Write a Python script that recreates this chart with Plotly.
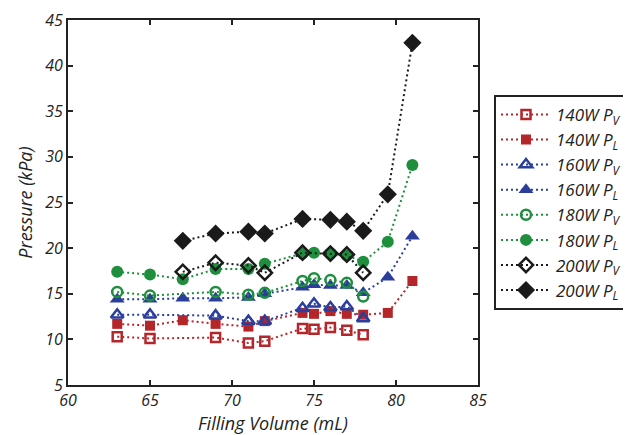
import plotly.graph_objects as go

x_pv = [63, 65, 69, 71, 72, 74.3, 75, 76, 77, 78]
x_pl = [63, 65, 67, 69, 71, 72, 74.3, 75, 76, 77, 78, 79.5, 81]
x_200pv = [67, 69, 71, 72, 74.3, 76, 77, 78]
x_200pl = [67, 69, 71, 72, 74.3, 76, 77, 78, 79.5, 81]

p140_v = [10.3, 10.1, 10.2, 9.6, 9.8, 11.2, 11.1, 11.3, 11.0, 10.5]
p140_l = [11.7, 11.5, 12.1, 11.7, 11.4, 12.0, 12.9, 12.8, 13.1, 12.8, 12.7, 12.9, 16.4]
p160_v = [12.7, 12.7, 12.6, 12.0, 12.0, 13.4, 13.9, 13.5, 13.6, 12.3]
p160_l = [14.4, 14.4, 14.5, 14.5, 14.6, 15.0, 15.7, 16.0, 15.9, 15.9, 15.1, 16.8, 21.3]
p180_v = [15.2, 14.8, 15.2, 14.9, 15.1, 16.4, 16.7, 16.5, 16.2, 14.7]
p180_l = [17.4, 17.1, 16.6, 17.7, 17.7, 18.3, 19.4, 19.5, 19.4, 19.2, 18.5, 20.7, 29.1]
p200_v = [17.4, 18.4, 18.1, 17.3, 19.5, 19.4, 19.3, 17.3]
p200_l = [20.8, 21.6, 21.8, 21.6, 23.2, 23.1, 22.9, 21.9, 25.9, 42.5]

x_ticks = [60, 65, 70, 75, 80, 85]
y_ticks = [5, 10, 15, 20, 25, 30, 35, 40, 45]

RED = "#B5262B"
BLUE = "#2C3E9C"
GREEN = "#1F8F3E"
BLACK = "#1A1A1A"

series = [
    ("140W P<sub>V</sub>", x_pv, p140_v, RED, "square-open", 9),
    ("140W P<sub>L</sub>", x_pl, p140_l, RED, "square", 10),
    ("160W P<sub>V</sub>", x_pv, p160_v, BLUE, "triangle-up-open", 11),
    ("160W P<sub>L</sub>", x_pl, p160_l, BLUE, "triangle-up", 13),
    ("180W P<sub>V</sub>", x_pv, p180_v, GREEN, "circle-open", 10),
    ("180W P<sub>L</sub>", x_pl, p180_l, GREEN, "circle", 12),
    ("200W P<sub>V</sub>", x_200pv, p200_v, BLACK, "diamond-open", 11),
    ("200W P<sub>L</sub>", x_200pl, p200_l, BLACK, "diamond", 14),
]

fig = go.Figure()
for name, xs, ys, col, sym, sz in series:
    fig.add_trace(go.Scatter(
        x=xs, y=ys, name=name, mode="lines+markers",
        line=dict(color=col, width=2, dash="2px,3px"),
        marker=dict(symbol=sym, size=sz, color=col,
                    line=dict(color=col, width=2.5 if "open" in sym else 0)),
    ))

font_it = dict(family="Open Sans, sans-serif", size=16, color="#222", style="italic")

axis_common = dict(
    showline=True, linecolor="#222", linewidth=2, mirror="allticks",
    ticks="inside", ticklen=5, tickwidth=2, tickcolor="#222",
    showgrid=False, zeroline=False, tickfont=font_it,
)

fig.update_layout(
    width=623, height=427,
    margin=dict(l=60, r=153, t=12, b=50, autoexpand=False),
    paper_bgcolor="white", plot_bgcolor="white",
    xaxis=dict(range=[60, 85], tickvals=x_ticks,
               title=dict(text="Filling Volume (mL)", font=dict(font_it, size=18), standoff=0),
               **axis_common),
    yaxis=dict(range=[5, 45], tickvals=y_ticks,
               title=dict(text="Pressure (kPa)", font=dict(font_it, size=18), standoff=8),
               **axis_common),
    legend=dict(x=1.039, y=0.795, xanchor="left", yanchor="top",
                bordercolor="#222", borderwidth=2, bgcolor="white",
                font=dict(family="Open Sans, sans-serif", size=17, color="#222", style="italic"),
                tracegroupgap=0, itemwidth=50),
    showlegend=True,
)

fig.write_html("out.html")
